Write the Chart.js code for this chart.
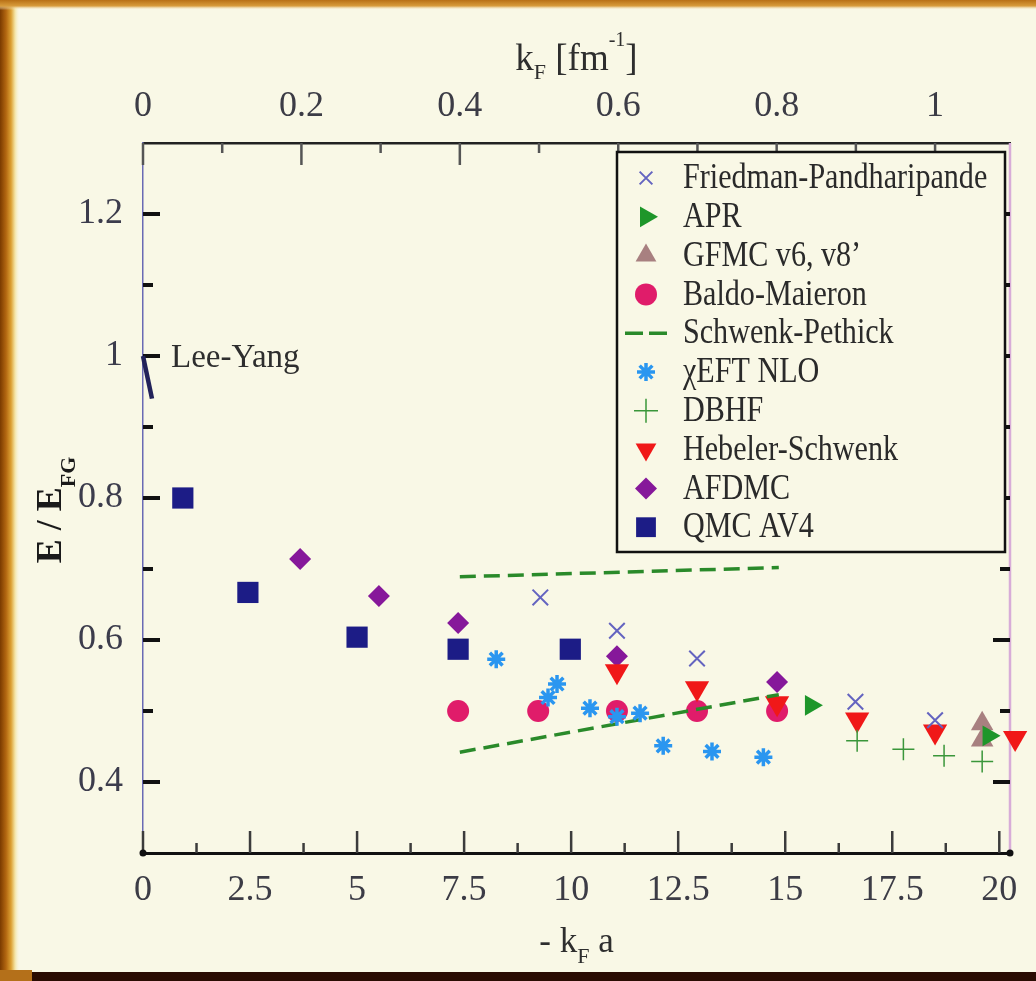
<!DOCTYPE html>
<html>
<head>
<meta charset="utf-8">
<script src="https://cdn.jsdelivr.net/npm/chart.js@4.4.1/dist/chart.umd.min.js"></script>
<style>
  html, body { margin: 0; padding: 0; background: #f9f8e6; }
  #chart { display: block; }
</style>
</head>
<body>
<canvas id="chart" width="1036" height="981"></canvas>
<script>
// x = -kF a (bottom axis), y = E / E_FG
const fpX = [9.28, 11.07, 12.94, 16.64, 18.5]
const fpY = [0.660, 0.613, 0.574, 0.513, 0.487]
const aprX = [15.6, 19.75]
const aprY = [0.508, 0.465]
const gfmcX = [19.6, 19.6]
const gfmcY = [0.482, 0.459]
const baldoX = [7.36, 9.23, 11.07, 12.94, 14.81]
const baldoY = [0.5, 0.5, 0.5, 0.5, 0.5]
const spUpperX = [7.4, 14.85]
const spUpperY = [0.689, 0.702]
const spLowerX = [7.4, 14.85]
const spLowerY = [0.442, 0.523]
const eftX = [8.25, 9.46, 9.67, 10.44, 11.07, 11.61, 12.15, 13.29, 14.49]
const eftY = [0.573, 0.519, 0.538, 0.504, 0.492, 0.497, 0.451, 0.443, 0.435]
const dbhfX = [16.68, 17.76, 18.71, 19.6]
const dbhfY = [0.458, 0.446, 0.437, 0.429]
const hsX = [11.07, 12.94, 14.81, 16.68, 18.5, 20.37]
const hsY = [0.556, 0.532, 0.511, 0.488, 0.471, 0.462]
const afdmcX = [3.67, 5.51, 7.36, 11.07, 14.81]
const afdmcY = [0.714, 0.662, 0.624, 0.577, 0.541]
const qmcX = [0.93, 2.45, 5.0, 7.36, 9.98]
const qmcY = [0.8, 0.667, 0.604, 0.587, 0.587]
const leeYangX = [0, 0.21]
const leeYangY = [1.0, 0.94]

// axis ticks
const bottomTicks = [0, 2.5, 5, 7.5, 10, 12.5, 15, 17.5, 20]
const bottomMinor = [1.25, 3.75, 6.25, 8.75, 11.25, 13.75, 16.25, 18.75]
const topTicks = [0, 0.2, 0.4, 0.6, 0.8, 1]
const topMinor = [0.1, 0.3, 0.5, 0.7, 0.9]
const leftTicks = [0.4, 0.6, 0.8, 1, 1.2]
const leftMinor = [0.5, 0.7, 0.9, 1.1]

const scatteringLength = 18.5   // |a| in fm, links the two x axes
const xMax = 20.25

const serif = '"Liberation Serif", "DejaVu Serif", serif'
const pageColor = "#f9f8e6"

function pts(xs, ys) {
  return xs.map((x, i) => ({ x: x, y: ys[i] }))
}

const datasets = [
  {
    label: "Friedman-Pandharipande",
    data: pts(fpX, fpY),
    pointStyle: "crossRot", pointRadius: 11, borderWidth: 2,
    borderColor: "#6464c0", backgroundColor: "#6464c0",
    order: 0, legendRadius: 9,
  },
  {
    label: "APR",
    data: pts(aprX, aprY),
    pointStyle: "triangle", pointRotation: 90, pointRadius: 12, borderWidth: 0,
    borderColor: "#1e962a", backgroundColor: "#1e962a",
    order: 1, legendRadius: 12,
  },
  {
    label: "GFMC v6, v8’",
    data: pts(gfmcX, gfmcY),
    pointStyle: "triangle", pointRadius: 13, borderWidth: 0,
    borderColor: "#a88080", backgroundColor: "#a88080",
    order: 2, legendRadius: 12,
  },
  {
    label: "Baldo-Maieron",
    data: pts(baldoX, baldoY),
    pointStyle: "circle", pointRadius: 11, borderWidth: 0,
    borderColor: "#e01c6a", backgroundColor: "#e01c6a",
    order: 7, legendRadius: 11,
  },
  {
    label: "Schwenk-Pethick",
    data: pts(spUpperX, spUpperY),
    showLine: true, pointRadius: 0, borderWidth: 3.5, borderDash: [16, 8],
    borderColor: "#2a8a2a", backgroundColor: "#2a8a2a",
    order: 4, isLine: true,
  },
  {
    label: "χEFT NLO",
    data: pts(eftX, eftY),
    pointStyle: "star", pointRadius: 9, borderWidth: 3.5,
    borderColor: "#2a96f0", backgroundColor: "#2a96f0",
    order: 3, legendRadius: 9,
  },
  {
    label: "DBHF",
    data: pts(dbhfX, dbhfY),
    pointStyle: "cross", pointRadius: 11, borderWidth: 1.5,
    borderColor: "#3a963a", backgroundColor: "#3a963a",
    order: 5, legendRadius: 12,
  },
  {
    label: "Hebeler-Schwenk",
    data: pts(hsX, hsY),
    pointStyle: "triangle", pointRotation: 180, pointRadius: 14, borderWidth: 0,
    borderColor: "#f01818", backgroundColor: "#f01818",
    order: 6, legendRadius: 12,
  },
  {
    label: "AFDMC",
    data: pts(afdmcX, afdmcY),
    pointStyle: "rectRot", pointRadius: 11, borderWidth: 0,
    borderColor: "#86189a", backgroundColor: "#86189a",
    order: 8, legendRadius: 11,
  },
  {
    label: "QMC AV4",
    data: pts(qmcX, qmcY),
    pointStyle: "rect", pointRadius: 15, borderWidth: 0,
    borderColor: "#1c1c86", backgroundColor: "#1c1c86",
    order: 9, legendRadius: 14,
  },
  {
    label: "",
    data: pts(spLowerX, spLowerY),
    showLine: true, pointRadius: 0, borderWidth: 3.5, borderDash: [16, 8],
    borderColor: "#2a8a2a", backgroundColor: "#2a8a2a",
    order: 4, hideInLegend: true,
  },
  {
    label: "",
    data: pts(leeYangX, leeYangY),
    showLine: true, pointRadius: 0, borderWidth: 4.5,
    borderColor: "#22225a", backgroundColor: "#22225a",
    order: 10, hideInLegend: true,
  },
]

// photo of a slide: cream page with an orange frame
const slideBackground = {
  id: "slideBackground",
  beforeDraw(chart) {
    const c = chart.ctx
    const w = chart.width
    const h = chart.height
    c.save()
    c.fillStyle = pageColor
    c.fillRect(0, 0, w, h)

    const gl = c.createLinearGradient(0, 0, 20, 0)
    gl.addColorStop(0, "#7a3a00")
    gl.addColorStop(0.3, "#b26610")
    gl.addColorStop(0.55, "#dca032")
    gl.addColorStop(0.75, "#f4e4a4")
    gl.addColorStop(1, "rgba(249,248,230,0)")
    c.fillStyle = gl
    c.fillRect(0, 0, 20, h)

    const gt = c.createLinearGradient(0, 0, 0, 10)
    gt.addColorStop(0, "#b87016")
    gt.addColorStop(0.6, "#d89c3c")
    gt.addColorStop(1, "rgba(249,248,230,0)")
    c.fillStyle = gt
    c.fillRect(0, 0, w, 10)

    c.fillStyle = "#2a0c02"
    c.fillRect(0, 972, w, h - 972)
    c.fillStyle = "#b4701a"
    c.fillRect(0, 970, 32, h - 970)
    c.restore()
  }
}

function drawRich(c, parts, x, y, align) {
  let total = 0
  parts.forEach(p => {
    c.font = (p.weight || "") + " " + p.size + "px " + serif
    p.w = c.measureText(p.t).width
    total += p.w
  })
  let cx = align === "center" ? x - total / 2 : x
  parts.forEach(p => {
    c.font = (p.weight || "") + " " + p.size + "px " + serif
    c.fillText(p.t, cx, y + (p.dy || 0))
    cx += p.w
  })
}

// inward tick marks, right border, axis titles, Lee-Yang label
const axisDecor = {
  id: "axisDecor",
  beforeDatasetsDraw(chart) {
    const c = chart.ctx
    const a = chart.chartArea
    const sx = chart.scales.x
    const st = chart.scales.xTop
    const sy = chart.scales.y
    c.save()

    // right border
    c.strokeStyle = "#d8acd8"
    c.lineWidth = 2.5
    c.beginPath()
    c.moveTo(a.right, a.top)
    c.lineTo(a.right, a.bottom)
    c.stroke()

    c.lineCap = "butt"
    // bottom ticks
    c.strokeStyle = "#3c3c3c"
    c.lineWidth = 2.5
    bottomTicks.forEach(v => {
      const px = sx.getPixelForValue(v)
      c.beginPath(); c.moveTo(px, a.bottom); c.lineTo(px, a.bottom - 22); c.stroke()
    })
    bottomMinor.forEach(v => {
      const px = sx.getPixelForValue(v)
      c.beginPath(); c.moveTo(px, a.bottom); c.lineTo(px, a.bottom - 10); c.stroke()
    })
    // top ticks
    c.strokeStyle = "#555"
    topTicks.forEach(v => {
      const px = st.getPixelForValue(v)
      c.beginPath(); c.moveTo(px, a.top); c.lineTo(px, a.top + 22); c.stroke()
    })
    topMinor.forEach(v => {
      const px = st.getPixelForValue(v)
      c.beginPath(); c.moveTo(px, a.top); c.lineTo(px, a.top + 10); c.stroke()
    })
    // left and right ticks
    c.strokeStyle = "#111"
    c.lineWidth = 4
    leftTicks.forEach(v => {
      const py = sy.getPixelForValue(v)
      c.beginPath(); c.moveTo(a.left, py); c.lineTo(a.left + 17, py); c.stroke()
      c.beginPath(); c.moveTo(a.right, py); c.lineTo(a.right - 17, py); c.stroke()
    })
    leftMinor.forEach(v => {
      const py = sy.getPixelForValue(v)
      c.beginPath(); c.moveTo(a.left, py); c.lineTo(a.left + 10, py); c.stroke()
      c.beginPath(); c.moveTo(a.right, py); c.lineTo(a.right - 10, py); c.stroke()
    })

    // corner dots
    c.fillStyle = "#111"
    ;[a.left, a.right].forEach(px => {
      c.beginPath(); c.arc(px, a.bottom, 3.5, 0, Math.PI * 2); c.fill()
    })

    // axis titles
    c.fillStyle = "#2e2e2e"
    c.textBaseline = "alphabetic"
    c.textAlign = "left"
    drawRich(c, [
      { t: "k", size: 37 },
      { t: "F", size: 22, dy: 9 },
      { t: " [fm", size: 37 },
      { t: "-1", size: 20, dy: -24 },
      { t: "]", size: 37 },
    ], (a.left + a.right) / 2, 70, "center")

    drawRich(c, [
      { t: "- k", size: 35 },
      { t: "F", size: 22, dy: 11 },
      { t: " a", size: 35 },
    ], (a.left + a.right) / 2, 952, "center")

    c.save()
    c.translate(61, 510)
    c.rotate(-Math.PI / 2)
    c.fillStyle = "#1a1a1a"
    drawRich(c, [
      { t: "E / E", size: 36, weight: "bold" },
      { t: "FG", size: 22, weight: "bold", dy: 14 },
    ], 0, 0, "center")
    c.restore()

    // Lee-Yang label
    c.fillStyle = "#2e2e2e"
    c.textBaseline = "middle"
    c.font = "33px " + serif
    c.fillText("Lee-Yang", a.left + 28, sy.getPixelForValue(1) + 2)
    c.restore()
  }
}

// framed legend inside the plot
const legendBox = {
  id: "legendBox",
  afterDatasetsDraw(chart) {
    const c = chart.ctx
    const left = 617, top = 152, right = 1005, bottom = 552
    const rowTop = 178, rowStep = 38.8
    const markX = 646, textX = 683
    c.save()
    c.fillStyle = pageColor
    c.fillRect(left, top, right - left, bottom - top)
    c.strokeStyle = "#111"
    c.lineWidth = 2.5
    c.strokeRect(left, top, right - left, bottom - top)

    const entries = chart.data.datasets.filter(d => !d.hideInLegend)
    entries.forEach((d, i) => {
      const y = rowTop + i * rowStep
      if (d.isLine) {
        c.strokeStyle = d.borderColor
        c.lineWidth = d.borderWidth
        c.setLineDash([18, 6])
        c.beginPath(); c.moveTo(625, y); c.lineTo(668, y); c.stroke()
        c.setLineDash([])
      } else {
        c.strokeStyle = d.borderColor
        c.fillStyle = d.backgroundColor
        c.lineWidth = d.borderWidth
        Chart.helpers.drawPoint(c, {
          pointStyle: d.pointStyle,
          radius: d.legendRadius,
          rotation: d.pointRotation || 0,
          borderWidth: d.borderWidth,
        }, markX, y)
      }
      c.save()
      c.translate(textX, y + 1)
      c.scale(0.86, 1)
      c.fillStyle = "#2a2a2a"
      c.textBaseline = "middle"
      c.font = "35px " + serif
      c.fillText(d.label, 0, 0)
      c.restore()
    })
    c.restore()
  }
}

const tickFont = { family: serif, size: 36 }

new Chart(document.getElementById("chart"), {
  type: "scatter",
  data: { datasets: datasets },
  options: {
    responsive: false,
    animation: false,
    clip: false,
    layout: { padding: { left: 0, top: 0, right: 26, bottom: 0 } },
    plugins: {
      legend: { display: false },
      tooltip: { enabled: false },
    },
    scales: {
      x: {
        type: "linear",
        position: "bottom",
        min: 0,
        max: xMax,
        grid: { display: false },
        border: { display: true, color: "#111", width: 3 },
        afterBuildTicks: s => { s.ticks = bottomTicks.map(v => ({ value: v })) },
        afterFit: s => { s.height = 128 },
        ticks: { color: "#3c3c46", font: tickFont, padding: 8, maxRotation: 0, autoSkip: false,
          callback: v => String(v) },
      },
      xTop: {
        axis: "x",
        type: "linear",
        position: "top",
        display: true,
        min: 0,
        max: xMax / scatteringLength,
        grid: { display: false },
        border: { display: true, color: "#222", width: 2.5 },
        afterBuildTicks: s => { s.ticks = topTicks.map(v => ({ value: v })) },
        afterFit: s => { s.height = 143 },
        ticks: { color: "#3c3c46", font: tickFont, padding: 7, maxRotation: 0, autoSkip: false,
          callback: v => (v === 0 || v === 1) ? String(v) : v.toFixed(1) },
      },
      y: {
        type: "linear",
        position: "left",
        min: 0.3,
        max: 1.3,
        grid: { display: false },
        border: { display: true, color: "#6a6ab4", width: 1.5 },
        afterBuildTicks: s => { s.ticks = leftTicks.map(v => ({ value: v })) },
        afterFit: s => { s.width = 143 },
        ticks: { color: "#3c3c4c", font: tickFont, padding: 12, autoSkip: false,
          callback: v => v === 1 ? "1" : v.toFixed(1) },
      },
    },
  },
  plugins: [slideBackground, axisDecor, legendBox],
})
</script>
</body>
</html>
